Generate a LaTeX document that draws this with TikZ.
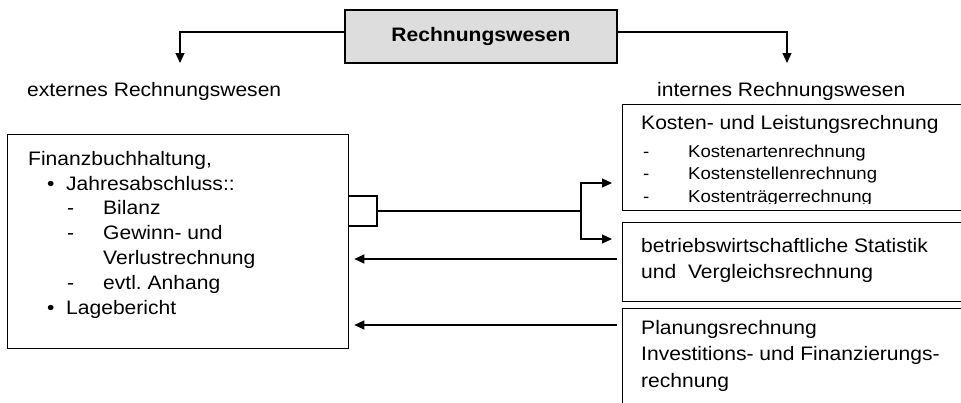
\documentclass[tikz,border=0pt]{standalone}
\usepackage{fontspec}
\setmainfont{Liberation Sans}[FakeStretch=1.08]
\usetikzlibrary{calc}
\usetikzlibrary{arrows.meta}
\frenchspacing
\definecolor{titlegray}{HTML}{DDDDDD}
\tikzset{my arrow/.style={-{Triangle[length=10pt,width=9pt]}, line width=1.2pt}}
\tikzstyle{box} = [rectangle, draw, line width=1.3pt, inner sep=0pt, anchor=north west]
\tikzstyle{boxtext} = [inner sep=0pt, anchor=north west, align=left, font=\fontsize{19.5}{24.8}\selectfont]
\newcommand{\blt}[1]{\hspace*{19pt}\makebox[19pt][l]{\textbullet}#1}
\newcommand{\dsh}[1]{\hspace*{39pt}\makebox[36pt][l]{-}#1}

\begin{document}
\begin{tikzpicture}[x=1pt, y=-1pt]
  \useasboundingbox (0,0) rectangle (961,402);
  \clip (0,0) rectangle (961,402);

  \node [box, anchor=center, fill=titlegray, minimum width=272pt, minimum height=53pt, font=\fontsize{19.5}{24}\selectfont\bfseries] (rw) at (481,36.5) {Rechnungswesen};
  \node [boxtext, anchor=base west] (ext) at (27,96) {externes Rechnungswesen};
  \node [boxtext, anchor=base west] (int) at (657,96) {internes Rechnungswesen};

  \node [box, minimum width=341pt, minimum height=214pt] (fibu) at (7,134) {};
  \node [box, minimum width=360pt, minimum height=106pt] (klr)  at (622,104) {};
  \node [box, minimum width=360pt, minimum height=79pt]  (stat) at (622,222) {};
  \node [box, minimum width=360pt, minimum height=120pt] (plan) at (622,308) {};

  \node [boxtext] (fibutxt) at (28,151) {Finanzbuchhaltung,\\
    \blt{Jahresabschluss::}\\
    \dsh{Bilanz}\\
    \dsh{Gewinn- und}\\
    \hspace*{75pt}Verlustrechnung\\
    \dsh{evtl. Anhang}\\
    \blt{Lagebericht}};
  \begin{scope}
    \clip (klr.north west) rectangle ($(klr.south east)+(0,-7.5)$);
    \node [boxtext] (klrhead) at (641,115) {Kosten- und Leistungsrechnung};
    \node [boxtext, font=\fontsize{17.2}{22.5}\selectfont] (klrlist) at (643,144.7) {\makebox[45pt][l]{-}Kostenartenrechnung\\
      \makebox[45pt][l]{-}Kostenstellenrechnung\\
      \makebox[45pt][l]{-}Kostenträgerrechnung};
  \end{scope}
  \node [boxtext, font=\fontsize{19.5}{26}\selectfont] (stattxt) at (641,238) {betriebswirtschaftliche Statistik\\und~~Vergleichsrechnung};
  \node [boxtext, font=\fontsize{19.5}{26.5}\selectfont] (plantxt) at (641,320) {Planungsrechnung\\Investitions- und Finanzierungs-\\rechnung};

  \coordinate (lt) at (180,63);
  \coordinate (rt) at (787,63);
  \coordinate (split) at (581,211);
  \draw [my arrow] ($(rw.west)+(0,-4.5)$) -| (lt);
  \draw [my arrow] ($(rw.east)+(0,-4.5)$) -| (rt);
  \draw [line width=1.2pt] (fibu.east |- 0,196) -- (377,196) -- (377,226) -- (fibu.east |- 0,226);
  \draw [line width=1.2pt] (377,211) -- (split);
  \draw [my arrow] (split) |- ($(klr.west |- 0,183)+(-10,0)$);
  \draw [my arrow] (split) |- ($(stat.west |- 0,239)+(-10,0)$);
  \draw [my arrow] ($(stat.west |- 0,259)+(-5,0)$) -- ($(fibu.east |- 0,259)+(5,0)$);
  \draw [my arrow] ($(plan.west |- 0,325)+(-5,0)$) -- ($(fibu.east |- 0,325)+(5,0)$);
\end{tikzpicture}
\end{document}
